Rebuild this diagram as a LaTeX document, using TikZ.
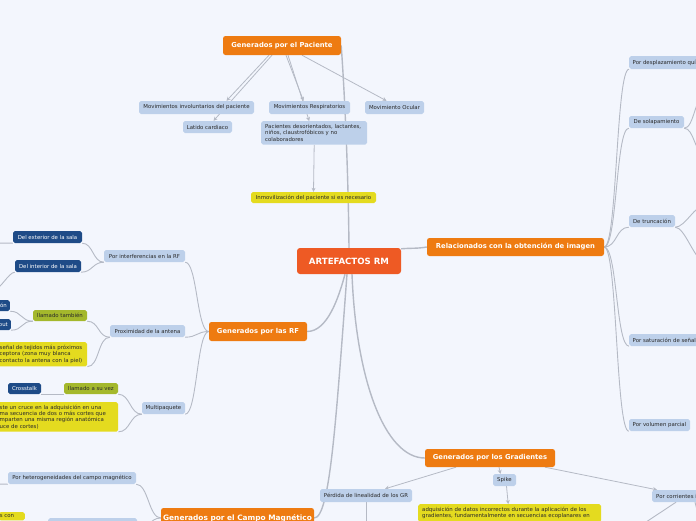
\documentclass[tikz,border=0pt]{standalone}
\usepackage{fontspec}
\newfontfamily\djv{DejaVu Sans}
\usetikzlibrary{arrows.meta}
\definecolor{bgc}{HTML}{F3F6FD}
\definecolor{lblue}{HTML}{BDD0EA}
\definecolor{dblue}{HTML}{1E4B87}
\definecolor{grn}{HTML}{A4B82C}
\definecolor{yel}{HTML}{E4DB1F}
\definecolor{orng}{HTML}{EE7B11}
\definecolor{cent}{HTML}{EE5A24}
\definecolor{lnc}{HTML}{B5BAC5}
\definecolor{txt}{HTML}{2A2A2A}
\pgfdeclarelayer{bg}
\pgfsetlayers{bg,main}
\tikzset{
  box/.style={rounded corners=1.8pt, inner sep=0pt, font=\djv\fontsize{5.4}{6.6}\selectfont, text=txt},
  lb/.style={box, fill=lblue},
  db/.style={box, fill=dblue, text=white},
  gr/.style={box, fill=grn},
  ye/.style={box, fill=yel},
  og/.style={rounded corners=2.5pt, inner sep=0pt, fill=orng, text=white, font=\djv\bfseries\fontsize{6.8}{8}\selectfont},
  ln/.style={draw=lnc, line width=0.9pt},
  mln/.style={draw=lnc, line width=1.4pt},
  arr/.style={draw=lnc, line width=0.8pt, -{Stealth[length=4pt,width=4pt]}},
  lc/.style={out=180,in=0,out distance=#1,in distance=#1},
  rc/.style={out=0,in=180,out distance=#1,in distance=#1},
}
\begin{document}
\begin{tikzpicture}[x=1pt,y=-1pt]
\useasboundingbox (0,0) rectangle (696,520);
% central
\node[og, fill=cent, font=\djv\bfseries\fontsize{8.6}{10}\selectfont, minimum width=104pt, minimum height=26pt, rounded corners=3pt] (central) at (349,261) {ARTEFACTOS RM};
% paciente
\node[og, minimum width=118pt, minimum height=19pt] (pac) at (282,45.5) {Generados por el Paciente};
\node[lb, minimum width=115pt, minimum height=13pt] (movinv) at (196.5,107.5) {Movimientos involuntarios del paciente};
\node[lb, minimum width=49pt, minimum height=12pt] (latido) at (207.5,127) {Latido cardiaco};
\node[lb, minimum width=81pt, minimum height=13pt] (movresp) at (309.5,107.5) {Movimientos Respiratorios};
\node[lb, minimum width=59pt, minimum height=13pt] (movocu) at (394.5,107.5) {Movimiento Ocular};
\node[lb, anchor=north west, text width=98pt, inner xsep=4pt, inner ysep=3pt, align=left] (pacdes) at (261,121) {Pacientes desorientados, lactantes,\\ niños, claustrofóbicos y no\\ colaboradores};
\node[ye, minimum width=125pt, minimum height=11pt] (inmov) at (313.5,197.5) {Inmovilización del paciente si es necesario};
% relacionados
\node[og, minimum width=177pt, minimum height=18pt] (rel) at (515.5,247) {Relacionados con la obtención de imagen};
\node[lb, anchor=west, inner xsep=3.5pt, minimum height=13pt] (despl) at (629,62.5) {Por desplazamiento químico};
\node[lb, minimum width=55pt, minimum height=12pt] (solap) at (656.5,122) {De solapamiento};
\node[lb, minimum width=46pt, minimum height=12pt] (trunc) at (652,221) {De truncación};
\node[lb, anchor=west, inner xsep=3.5pt, minimum height=12pt] (satur) at (629,340) {Por saturación de señal};
\node[lb, minimum width=61pt, minimum height=12pt] (volpar) at (659.5,425) {Por volumen parcial};
% RF
\node[og, minimum width=98pt, minimum height=19pt] (rf) at (258,331.5) {Generados por las RF};
\node[lb, minimum width=81pt, minimum height=12pt] (interf) at (144.5,256) {Por interferencias en la RF};
\node[db, minimum width=69pt, minimum height=12pt] (exterior) at (47.5,237) {Del exterior de la sala};
\node[db, minimum width=66pt, minimum height=12pt] (interior) at (48,266) {Del interior de la sala};
\node[lb, minimum width=75pt, minimum height=12pt] (proxim) at (147.5,331) {Proximidad de la antena};
\node[gr, minimum width=54pt, minimum height=11pt] (llamtam) at (60,315.5) {llamado también};
\node[db, anchor=east, inner xsep=3pt, minimum height=11pt] (dbone) at (10,305.5) {Saturación};
\node[db, anchor=east, inner xsep=3pt, minimum height=11pt] (dbtwo) at (11,324.5) {Blow out};
\node[ye, anchor=north west, text width=84pt, inner xsep=3.5pt, inner ysep=2.8pt, align=left] (yeone) at (-4,342) {señal de tejidos más próximos\\ ceptora (zona muy blanca\\ contacto la antena con la piel)};
\node[lb, minimum width=43pt, minimum height=12pt] (multip) at (163.5,408) {Multipaquete};
\node[db, minimum width=33pt, minimum height=11pt] (cross) at (24.5,388.5) {Crosstalk};
\node[gr, minimum width=54pt, minimum height=11pt] (llamvez) at (91,388.5) {llamado a su vez};
\node[ye, anchor=north west, text width=115pt, inner xsep=3.5pt, inner ysep=2.6pt, align=left, font=\djv\fontsize{5.4}{6.4}\selectfont] (yetwo) at (-4,402) {ste un cruce en la adquisición en una\\ ma secuencia de dos o más cortes que\\ mparten una misma región anatómica\\ uce de cortes)};
% campo magnetico
\node[lb, minimum width=128pt, minimum height=12pt] (hetero) at (72,478) {Por heterogeneidades del campo magnético};
\node[og, minimum width=153pt, minimum height=20pt, font=\djv\bfseries\fontsize{7.4}{8}\selectfont] (campo) at (237.5,518) {Generados por el Campo Magnético};
\node[ye, anchor=north east, text width=24pt, inner xsep=1pt, inner ysep=2.5pt, align=left] (yefour) at (25,512) {s con};
\node[lb, anchor=north west, minimum width=89pt, minimum height=12pt] (lbtwo) at (48,518) {};
% gradientes
\node[og, minimum width=130pt, minimum height=18pt] (grad) at (490,458) {Generados por los Gradientes};
\node[lb, minimum width=92pt, minimum height=13pt] (perdida) at (366,495.5) {Pérdida de linealidad de los GR};
\node[lb, minimum width=23pt, minimum height=12pt] (spike) at (504.5,480) {Spike};
\node[ye, anchor=north west, text width=175pt, inner xsep=4pt, inner ysep=2.8pt, align=left] (yethree) at (418,504) {adquisición de datos incorrectos durante la aplicación de los\\ gradientes, fundamentalmente en secuencias ecoplanares en};
\node[lb, anchor=west, inner xsep=4pt, minimum height=12pt] (corr) at (652,496) {Por corrientes inducidas};
% free ends
\coordinate (exone) at (-5,243);
\coordinate (extwo) at (-6,290);
\coordinate (exthree) at (-5,484);
\coordinate (sone) at (705,95);
\coordinate (stwo) at (705,155);
\coordinate (tone) at (705,205);
\coordinate (ttwo) at (705,262);
\coordinate (pone) at (366,530);
\coordinate (cone) at (640,526);
\coordinate (ctwo) at (699,518);
\begin{pgfonlayer}{bg}
\fill[bgc] (-10,-10) rectangle (710,530);
% main branches
\draw[mln] (central.north) .. controls (348,150) and (343,70) .. (pac.east);
\draw[mln] ([yshift=-1pt]central.north east) to[out=5,in=190] (rel.west);
\draw[mln] ([xshift=-4pt]central.south) to[out=-105,in=0,out distance=25pt,in distance=20pt] (rf.east);
\draw[mln] ([xshift=-2pt]central.south) .. controls (336,420) and (330,518) .. (campo.east);
\draw[mln] ([xshift=3pt]central.south) .. controls (356,380) and (385,458) .. (grad.west);
% paciente arrows
\draw[arr] ([xshift=-13pt]pac.south) -- ([xshift=30pt]movinv.north);
\draw[arr] ([xshift=-10pt]pac.south) -- ([xshift=6pt]latido.north);
\draw[arr] ([xshift=4pt]pac.south) -- ([xshift=-6pt]movresp.north);
\draw[arr] ([xshift=6pt]pac.south) -- ([xshift=-5pt]pacdes.north);
\draw[arr] ([xshift=20pt]pac.south) -- ([xshift=-8pt]movocu.north);
\draw[arr] (pacdes.south) -- (inmov.north);
% relacionados
\foreach \n in {despl,solap,trunc,satur,volpar}
  \draw[ln] (rel.east) to[rc=13pt] (\n.south west);
\draw[ln] (solap.south east) to[rc=10pt] (sone);
\draw[ln] (solap.south east) to[rc=10pt] (stwo);
\draw[ln] (trunc.south east) to[rc=10pt] (tone);
\draw[ln] (trunc.south east) to[rc=10pt] (ttwo);
% RF
\draw[ln] (rf.west) to[lc=12pt] (interf.south east);
\draw[ln] (rf.west) to[lc=12pt] (proxim.south east);
\draw[ln] (rf.west) to[lc=12pt] (multip.south east);
\draw[ln] (interf.south west) to[lc=11pt] (exterior.south east);
\draw[ln] (interf.south west) to[lc=11pt] (interior.south east);
\draw[ln] (exterior.south west) -- (exone);
\draw[ln] (interior.south west) to[lc=6pt] (extwo);
\draw[ln] (proxim.south west) to[lc=12pt] (llamtam.south east);
\draw[ln] (proxim.south west) to[lc=12pt] (yeone.south east);
\draw[ln] (llamtam.south west) to[lc=12pt] (dbone.south east);
\draw[ln] (llamtam.south west) to[lc=12pt] (dbtwo.south east);
\draw[ln] (multip.south west) to[lc=12pt] (llamvez.south east);
\draw[ln] (multip.south west) to[lc=12pt] (yetwo.south east);
\draw[ln] (llamvez.south west) -- (cross.south east);
% campo
\draw[ln] (campo.west) to[lc=12pt] (hetero.south east);
\draw[ln] (campo.west) to[lc=12pt] (lbtwo.south east);
\draw[ln] (hetero.south west) -- (exthree);
% gradientes
\draw[arr] ([xshift=-34pt]grad.south) -- ([xshift=19pt]perdida.north);
\draw[arr] ([xshift=9pt]grad.south) -- ([xshift=-4pt]spike.north);
\draw[arr] ([xshift=55pt]grad.south) -- ([xshift=5pt]corr.north west);
\draw[arr] ([xshift=2pt]spike.south) -- ([xshift=-1.5pt]yethree.north);
\draw[ln] (perdida.south) -- (pone);
\draw[ln] ([xshift=24pt]corr.south west) -- (cone);
\draw[ln] ([xshift=43pt]corr.south west) -- (ctwo);
\end{pgfonlayer}
\end{tikzpicture}
\end{document}
